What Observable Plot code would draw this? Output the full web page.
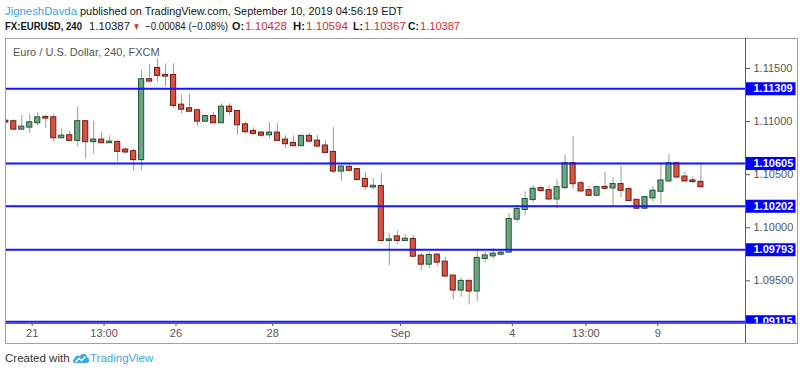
<!DOCTYPE html>
<html><head><meta charset="utf-8">
<script src="https://cdn.jsdelivr.net/npm/d3@7"></script>
<script src="https://cdn.jsdelivr.net/npm/@observablehq/plot@0.6"></script>
<style>
body{margin:0;background:#fff;}
#wrap{position:relative;width:800px;height:376px;overflow:hidden;font-family:"Liberation Sans",Arial,sans-serif;color:#131722;}
.abs{position:absolute;white-space:nowrap;}
</style></head><body>
<div id="wrap">
  <div id="chart" class="abs" style="left:0;top:0"></div>
  <svg id="head" class="abs" style="left:0;top:0;font-family:'Liberation Sans',Arial,sans-serif" width="800" height="36"></svg>
  <div class="abs" style="left:13px;top:46px;font-size:11px;line-height:13px;color:#555;">Euro / U.S. Dollar, 240, FXCM</div>
  <div class="abs" style="left:5px;top:38px;width:791px;height:304px;border:1px solid #a0a0a0;"></div>
  <div class="abs" style="left:745px;top:38px;width:1px;height:305px;background:#5d606b;"></div>
  <div class="abs" style="left:5px;top:323px;width:792px;height:1px;background:#5d606b;"></div>
  <div class="abs" style="left:746px;top:324px;width:50px;height:18px;background:#fff;"></div>
  <div class="abs" style="left:5px;top:351px;font-size:11.5px;line-height:14px;color:#333;">Created with</div>
  <svg class="abs" style="left:72px;top:350px" width="18" height="16" viewBox="0 0 18 16">
    <path d="M3 13 C0.5 13 0.2 9 2.8 8.6 C3 5.5 6.5 4.5 8 6.5 C9 2.5 15 2.8 15.2 7.5 C18 8 17.8 13 15 13 Z" fill="#3fa7e0"/>
    <path d="M3.5 12 L7 8.5 L9.5 10.5 L13.5 6.5" fill="none" stroke="#fff" stroke-width="1.4"/>
  </svg>
  <div class="abs" style="left:90px;top:351px;font-size:11.5px;line-height:14px;color:#3fa7e0;">TradingView</div>
</div>
<script>
const opens = [1.11003,1.10999,1.10929,1.10948,1.10989,1.11039,1.11036,1.10848,1.10867,1.10823,
1.10999,1.10811,1.10826,1.10801,1.10804,1.10732,1.10717,1.10642,1.11395,1.11501,
1.11435,1.11435,1.11155,1.11121,1.11102,1.11004,1.11048,1.10989,1.11136,1.11095,
1.10970,1.10908,1.10892,1.10876,1.10892,1.10826,1.10795,1.10773,1.10861,1.10816,
1.10770,1.10710,1.10534,1.10569,1.10548,1.10456,1.10384,1.10388,1.09880,1.09914,
1.09880,1.09889,1.09732,1.09657,1.09742,1.09676,1.09545,1.09413,1.09495,1.09404,
1.09711,1.09735,1.09751,1.09770,1.10081,1.10172,1.10266,1.10369,1.10350,1.10271,
1.10378,1.10604,1.10415,1.10350,1.10306,1.10381,1.10375,1.10407,1.10359,1.10259,
1.10184,1.10281,1.10344,1.10441,1.10604,1.10478,1.10441,1.10428];
const highs = [1.11030,1.11018,1.11058,1.11067,1.11083,1.11058,1.11067,1.10933,1.10910,1.11140,
1.11001,1.11002,1.10901,1.10867,1.10823,1.10754,1.10741,1.11482,1.11541,1.11592,
1.11543,1.11545,1.11253,1.11253,1.11111,1.11064,1.11083,1.11168,1.11168,1.11095,
1.10995,1.10942,1.10910,1.10992,1.10980,1.10867,1.10867,1.10867,1.10889,1.10870,
1.10823,1.10942,1.10597,1.10613,1.10555,1.10522,1.10463,1.10513,1.09946,1.09971,
1.09939,1.09927,1.09758,1.09770,1.09758,1.09720,1.09545,1.09526,1.09495,1.09796,
1.09772,1.09805,1.09789,1.10134,1.10212,1.10338,1.10400,1.10384,1.10397,1.10453,
1.10682,1.10860,1.10439,1.10391,1.10391,1.10525,1.10472,1.10576,1.10384,1.10259,
1.10290,1.10384,1.10604,1.10692,1.10610,1.10525,1.10478,1.10594];
const lows = [1.10970,1.10917,1.10926,1.10889,1.10957,1.10936,1.10807,1.10839,1.10816,1.10765,
1.10647,1.10694,1.10795,1.10799,1.10619,1.10695,1.10529,1.10541,1.11370,1.11373,
1.11326,1.11126,1.11074,1.11089,1.10954,1.10992,1.10982,1.10985,1.11058,1.10872,
1.10886,1.10872,1.10853,1.10834,1.10816,1.10748,1.10767,1.10770,1.10807,1.10757,
1.10704,1.10510,1.10438,1.10534,1.10447,1.10349,1.10353,1.09864,1.09645,1.09843,
1.09873,1.09720,1.09594,1.09617,1.09632,1.09538,1.09319,1.09344,1.09272,1.09303,
1.09669,1.09702,1.09732,1.09761,1.10050,1.10118,1.10234,1.10328,1.10259,1.10181,
1.10359,1.10363,1.10328,1.10297,1.10303,1.10353,1.10212,1.10284,1.10250,1.10165,
1.10177,1.10240,1.10221,1.10431,1.10463,1.10431,1.10415,1.10367];
const closes = [1.10996,1.10929,1.10948,1.10989,1.11036,1.11033,1.10848,1.10863,1.10823,1.10999,
1.10811,1.10826,1.10801,1.10807,1.10720,1.10714,1.10642,1.11395,1.11382,1.11435,
1.11429,1.11152,1.11117,1.11098,1.11004,1.11048,1.10989,1.11136,1.11095,1.10970,
1.10905,1.10889,1.10872,1.10892,1.10823,1.10792,1.10773,1.10861,1.10816,1.10770,
1.10710,1.10534,1.10572,1.10541,1.10454,1.10388,1.10391,1.09880,1.09886,1.09880,
1.09892,1.09732,1.09657,1.09739,1.09676,1.09545,1.09413,1.09495,1.09404,1.09711,
1.09735,1.09751,1.09761,1.10078,1.10172,1.10266,1.10363,1.10350,1.10271,1.10378,
1.10604,1.10415,1.10347,1.10306,1.10378,1.10372,1.10407,1.10353,1.10256,1.10184,
1.10284,1.10344,1.10441,1.10604,1.10478,1.10441,1.10435,1.10387];
const levels = [1.11309, 1.10605, 1.10202, 1.09793, 1.09115];
const yTicks = [1.095, 1.100, 1.105, 1.110, 1.115];
const xTickPos = [3.3, 12.3, 21.3, 33.4, 49.4, 63.4, 72.6, 81.6];
const xTickLabels = ["21", "13:00", "26", "28", "Sep", "4", "13:00", "9"];

// header pieces: [text, x, width, line, color, bold, fontSize]
const headerParts = [
  ["JigneshDavda", 5, 72, 1, "#3a9fe4", false, 11.4],
  ["published on TradingView.com, September 10, 2019 04:56:19 EDT", 80, 323, 1, "#131722", false, 11],
  ["FX:EURUSD, 240", 5, 77, 2, "#131722", true, 10],
  ["1.10387", 89, 41, 2, "#131722", false, 11.2],
  ["▼", 133, 7, 2, "#d0312d", false, 10],
  ["−0.00084 (−0.08%)", 145, 83, 2, "#131722", false, 10],
  ["O:", 232, 12, 2, "#131722", true, 10.8],
  ["1.10428", 245, 42, 2, "#d0312d", false, 11.4],
  ["H:", 293, 12, 2, "#131722", true, 10.8],
  ["1.10594", 306, 42, 2, "#d0312d", false, 11.4],
  ["L:", 353, 10, 2, "#131722", true, 10.8],
  ["1.10367", 364, 42, 2, "#d0312d", false, 11.4],
  ["C:", 408, 11, 2, "#131722", true, 10.8],
  ["1.10387", 420, 40, 2, "#d0312d", false, 11.2]
];
const head = d3.select("#head");
head.selectAll("text").data(headerParts).join("text")
  .attr("x", d => d[1]).attr("y", d => d[3] === 1 ? 15 : 30)
  .attr("font-size", d => d[6])
  .attr("textLength", d => d[2]).attr("lengthAdjust", "spacingAndGlyphs")
  .attr("fill", d => d[4]).attr("font-weight", d => d[5] ? "bold" : "normal")
  .text(d => d[0]);

const candles = opens.map((o, i) => ({i, open: o, high: highs[i], low: lows[i], close: closes[i], up: closes[i] >= o}));
const fmt = d3.format(".5f");
const boxSymbol = {draw(ctx) { ctx.rect(-25, -6.5, 50, 13); }};

const chart = Plot.plot({
  width: 800, height: 376,
  marginLeft: 6, marginRight: 55, marginTop: 38, marginBottom: 53,
  style: {fontFamily: "Liberation Sans, Arial, sans-serif", fontSize: "11px", background: "transparent"},
  x: {domain: [0.088, 92.58]},
  y: {domain: [1.09098, 1.11783]},
  color: {type: "identity"},
  marks: [
    Plot.ruleX(candles, {x: "i", y1: "low", y2: "high", stroke: "#9a9a9a", strokeWidth: 1, clip: true}),
    Plot.rect(candles, {x1: d => d.i - 0.32, x2: d => d.i + 0.32, y1: "open", y2: "close",
      fill: d => d.up ? "#6ba583" : "#d75442", stroke: d => d.up ? "#225437" : "#6e1e14",
      strokeWidth: 1, insetTop: -0.5, insetBottom: -0.5, clip: true}),
    Plot.ruleY(levels, {y: d => d, stroke: "#1414ff", strokeWidth: 2}),
    Plot.axisY({ticks: yTicks, anchor: "right", tickSize: 4, tickPadding: 4, tickFormat: fmt, color: "#555", fontSize: 11, label: null}),
    Plot.axisX({ticks: xTickPos, anchor: "bottom", tickSize: 3, tickPadding: 3, tickFormat: d => xTickLabels[xTickPos.indexOf(d)], color: "#555", fontSize: 11, label: null}),
    Plot.dot(levels, {y: d => d, frameAnchor: "right", dx: 25, symbol: boxSymbol, r: 5, fill: "#0000ff", stroke: "none"}),
    Plot.text(levels, {y: d => d, frameAnchor: "right", dx: 8, textAnchor: "start", text: d => fmt(d), fill: "#fff", fontWeight: "bold", fontSize: 11})
  ]
});
document.getElementById("chart").appendChild(chart);
</script>
</body></html>
